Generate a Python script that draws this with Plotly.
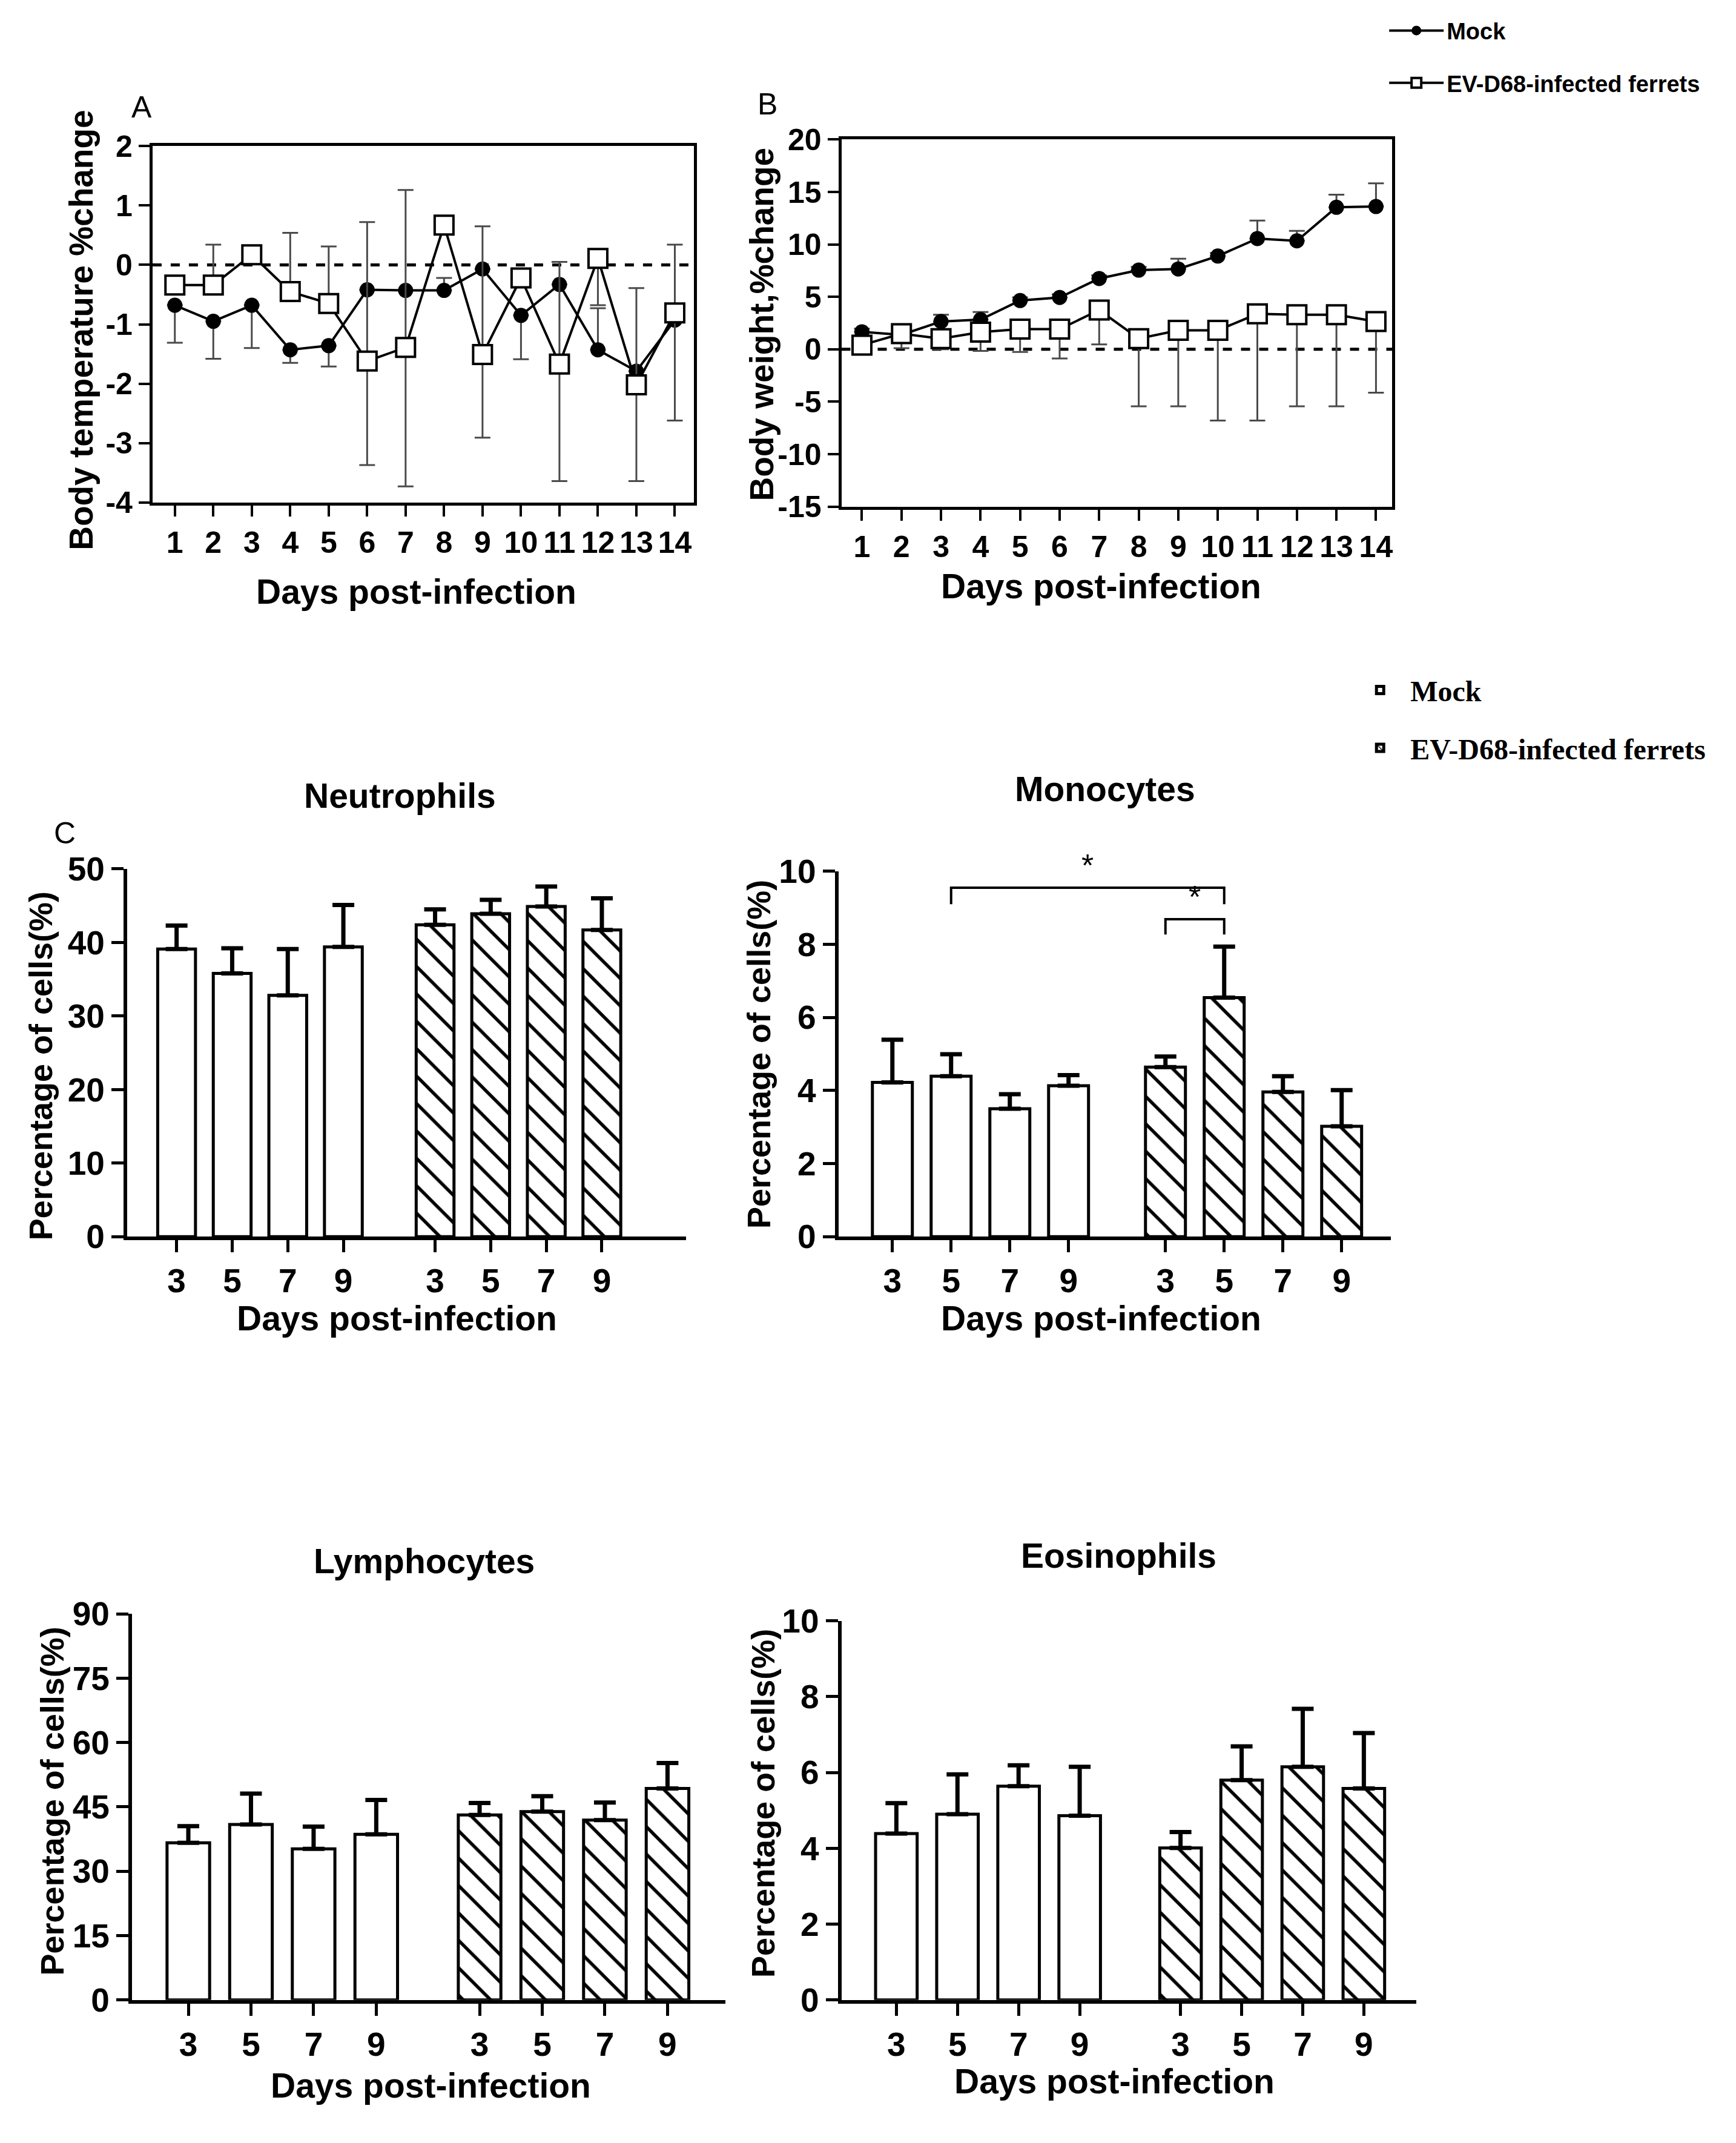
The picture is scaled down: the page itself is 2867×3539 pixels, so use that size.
import plotly.graph_objects as go

W, H = 2867, 3539
FONT = "Liberation Sans, Arial, sans-serif"
SERIF = "Liberation Serif, Times New Roman, serif"

# ---------------- data ----------------
days = list(range(1, 15))

temp_mock = [-0.68, -0.95, -0.68, -1.43, -1.36, -0.42, -0.43, -0.43, -0.07, -0.85, -0.33, -1.43, -1.79, -0.93]
temp_mock_up = [0, 0, 0, 0, 0, 0, 0, 0.21, 0, 0, 0, 0.70, 0, 0]
temp_mock_down = [0.63, 0.63, 0.72, 0.22, 0.35, 0, 0, 0, 0, 0.74, 0, 0, 0, 0]
temp_inf = [-0.34, -0.34, 0.17, -0.45, -0.65, -1.62, -1.39, 0.67, -1.51, -0.22, -1.67, 0.11, -2.02, -0.81]
temp_inf_up = [0, 0.68, 0, 0.99, 0.96, 2.34, 2.65, 0.13, 2.16, 0, 1.72, 0, 1.63, 1.15]
temp_inf_down = [0, 0, 0, 0, 0, 1.75, 2.34, 0, 1.40, 0, 1.97, 0.79, 1.62, 1.81]
temp_ticks = [-4, -3, -2, -1, 0, 1, 2]

wt_mock = [1.67, 1.38, 2.65, 2.83, 4.65, 4.94, 6.75, 7.55, 7.66, 8.89, 10.56, 10.34, 13.54, 13.61]
wt_mock_up = [0.3, 0.3, 0.65, 0.73, 0.3, 0.3, 0.3, 0.3, 0.98, 0.3, 1.71, 0.95, 1.20, 2.22]
wt_inf = [0.40, 1.49, 1.02, 1.63, 1.92, 1.92, 3.74, 1.02, 1.81, 1.81, 3.38, 3.30, 3.30, 2.65]
wt_inf_down = [0.40, 1.39, 1.02, 1.78, 2.17, 2.79, 3.27, 6.46, 7.25, 8.60, 10.17, 8.74, 8.74, 6.79]
wt_ticks = [-15, -10, -5, 0, 5, 10, 15, 20]

bar_days = ["3", "5", "7", "9"]

neut_mock = [39.1, 35.8, 32.8, 39.4]
neut_mock_err = [3.2, 3.4, 6.3, 5.7]
neut_inf = [42.4, 43.9, 44.9, 41.7]
neut_inf_err = [2.1, 1.9, 2.7, 4.3]

mono_mock = [4.22, 4.39, 3.50, 4.13]
mono_mock_err = [1.17, 0.60, 0.40, 0.29]
mono_inf = [4.64, 6.54, 3.96, 3.02]
mono_inf_err = [0.29, 1.40, 0.43, 0.99]

lymph_mock = [36.6, 40.9, 35.2, 38.6]
lymph_mock_err = [3.9, 7.2, 5.2, 8.0]
lymph_inf = [43.1, 43.9, 41.9, 49.3]
lymph_inf_err = [2.8, 3.6, 4.1, 5.9]

eos_mock = [4.39, 4.90, 5.64, 4.86]
eos_mock_err = [0.80, 1.05, 0.55, 1.29]
eos_inf = [4.01, 5.80, 6.15, 5.58]
eos_inf_err = [0.42, 0.89, 1.53, 1.46]

# significance brackets on monocytes: ((group, bar), (group, bar)) and bracket levels
sig_pairs = [((0, 1), (1, 1)), ((1, 0), (1, 1))]
sig_levels = [9.55, 8.69]
sig_drop = [0.45, 0.42]

GROUP_GAP = 4.65
mock_x = [i for i in range(4)]
inf_x = [i + GROUP_GAP for i in range(4)]


def xdom(a, b):
    return [a / W, b / W]


def ydom(top, bottom):
    return [1 - bottom / H, 1 - top / H]


fig = go.Figure()

ERR_AB = dict(type="data", symmetric=False, color="#4a4a4a", thickness=3, width=13)

# ---------------- A: body temperature ----------------
fig.add_trace(go.Scatter(
    x=days, y=temp_mock, mode="lines+markers", name="Mock",
    line=dict(color="black", width=4),
    marker=dict(symbol="circle", size=25, color="black"),
    error_y=dict(ERR_AB, array=temp_mock_up, arrayminus=temp_mock_down),
    xaxis="x", yaxis="y", legend="legend", legendgroup="m"))
fig.add_trace(go.Scatter(
    x=days, y=temp_inf, mode="lines+markers", name="EV-D68-infected ferrets",
    line=dict(color="black", width=4),
    marker=dict(symbol="square", size=31, color="white", line=dict(color="black", width=4)),
    error_y=dict(ERR_AB, array=temp_inf_up, arrayminus=temp_inf_down),
    xaxis="x", yaxis="y", legend="legend", legendgroup="i"))

# ---------------- B: body weight ----------------
fig.add_trace(go.Scatter(
    x=days, y=wt_mock, mode="lines+markers", name="Mock", showlegend=False,
    line=dict(color="black", width=4),
    marker=dict(symbol="circle", size=25, color="black"),
    error_y=dict(ERR_AB, array=wt_mock_up, arrayminus=[0] * 14),
    xaxis="x2", yaxis="y2"))
fig.add_trace(go.Scatter(
    x=days, y=wt_inf, mode="lines+markers", name="EV-D68-infected ferrets", showlegend=False,
    line=dict(color="black", width=4),
    marker=dict(symbol="square", size=31, color="white", line=dict(color="black", width=4)),
    error_y=dict(ERR_AB, array=[0] * 14, arrayminus=wt_inf_down),
    xaxis="x2", yaxis="y2"))

# ---------------- bar panels ----------------
panels = [
    ("3", neut_mock, neut_mock_err, neut_inf, neut_inf_err, True),
    ("4", mono_mock, mono_mock_err, mono_inf, mono_inf_err, False),
    ("5", lymph_mock, lymph_mock_err, lymph_inf, lymph_inf_err, False),
    ("6", eos_mock, eos_mock_err, eos_inf, eos_inf_err, False),
]
for ax, mv, me, iv, ie, show in panels:
    fig.add_trace(go.Bar(
        x=mock_x, y=mv, width=0.68, name="Mock", showlegend=show, legend="legend2",
        legendgroup="bm",
        marker=dict(color="white", line=dict(color="black", width=5)),
        error_y=dict(type="data", symmetric=False, array=me, arrayminus=[0] * 4,
                     color="black", thickness=7, width=18),
        xaxis="x" + ax, yaxis="y" + ax))
    fig.add_trace(go.Bar(
        x=inf_x, y=iv, width=0.68, name="EV-D68-infected ferrets", showlegend=show,
        legend="legend2", legendgroup="bi",
        marker=dict(color="white", line=dict(color="black", width=5),
                    pattern=dict(shape="\\", fgcolor="black", bgcolor="white", fgopacity=1,
                                 size=32, solidity=0.17)),
        error_y=dict(type="data", symmetric=False, array=ie, arrayminus=[0] * 4,
                     color="black", thickness=7, width=18),
        xaxis="x" + ax, yaxis="y" + ax))

font_ab = dict(family=FONT, size=50, color="black", weight="bold")
font_bar = dict(family=FONT, size=55, color="black", weight="bold")

common_ax = dict(showgrid=False, zeroline=False, showline=True, linecolor="black",
                 ticks="outside", tickcolor="black", tickangle=0, fixedrange=True)


def hy(vals):
    # plain ASCII hyphen for negative numbers, as in the original figure
    return ["-" + str(abs(v)) if v < 0 else str(v) for v in vals]


layout_axes = {}
# A
layout_axes["xaxis"] = dict(common_ax, domain=xdom(252, 1146), anchor="y", range=[0.42, 14.49],
                            tickvals=days, tickfont=font_ab,
                            linewidth=5, mirror=True, tickwidth=4, ticklen=18)
layout_axes["yaxis"] = dict(common_ax, domain=ydom(214, 813), anchor="x", range=[-4, 2],
                            tickvals=temp_ticks, ticktext=hy(temp_ticks), tickfont=font_ab,
                            linewidth=5, mirror=True, tickwidth=4, ticklen=18)
# B
layout_axes["xaxis2"] = dict(common_ax, domain=xdom(1390, 2300), anchor="y2", range=[0.48, 14.41],
                             tickvals=days, tickfont=font_ab,
                             linewidth=5, mirror=True, tickwidth=4, ticklen=18)
layout_axes["yaxis2"] = dict(common_ax, domain=ydom(203, 820), anchor="x2", range=[-15, 20],
                             tickvals=wt_ticks, ticktext=hy(wt_ticks), tickfont=font_ab,
                             linewidth=5, mirror=True, tickwidth=4, ticklen=18)

bar_geom = {
    "3": (xdom(210, 1133), ydom(1429, 2047), [-0.89, 9.16], [0, 50], 10),
    "4": (xdom(1385, 2298), ydom(1433, 2047), [-0.92, 8.49], [0, 10], 2),
    "5": (xdom(218, 1198), ydom(2681, 3330), [-0.90, 8.57], [0, 90], 15),
    "6": (xdom(1390, 2340), ydom(2693, 3330), [-0.90, 8.51], [0, 10], 2),
}
for ax, (xd, yd, xr, yr, dt) in bar_geom.items():
    layout_axes["xaxis" + ax] = dict(common_ax, domain=xd, anchor="y" + ax, range=xr,
                                     tickvals=mock_x + inf_x, ticktext=bar_days * 2, tickfont=font_bar,
                                     linewidth=6, tickwidth=5, ticklen=20)
    layout_axes["yaxis" + ax] = dict(common_ax, domain=yd, anchor="x" + ax, range=yr, dtick=dt,
                                     tickfont=font_bar, linewidth=6, tickwidth=5, ticklen=20)

# ---------------- shapes ----------------
shapes = []
for ax in ["", "2"]:
    shapes.append(dict(type="line", xref=("x" + ax) + " domain", yref="y" + ax,
                       x0=0, x1=1, y0=0, y1=0, line=dict(color="black", width=5, dash="dash"),
                       layer="below"))

annotations = []
group_x = [mock_x, inf_x]
for (a, b), lev, drop in zip(sig_pairs, sig_levels, sig_drop):
    xa = group_x[a[0]][a[1]]
    xb = group_x[b[0]][b[1]]
    shapes.append(dict(type="path", xref="x4", yref="y4",
                       path=f"M {xa},{lev - drop} L {xa},{lev} L {xb},{lev} L {xb},{lev - drop}",
                       line=dict(color="black", width=4)))
    annotations.append(dict(x=(xa + xb) / 2, y=lev + 0.1, xref="x4", yref="y4", text="*",
                            showarrow=False, yanchor="bottom",
                            font=dict(family=FONT, size=52, color="black")))


def txt(x, y, s, size=57, angle=0, bold=True, family=FONT):
    annotations.append(dict(x=x / W, y=1 - y / H, xref="paper", yref="paper", text=s,
                            showarrow=False, xanchor="center", yanchor="middle", textangle=angle,
                            font=dict(family=family, size=size, color="black",
                                      weight="bold" if bold else "normal")))


# panel letters
txt(234, 149, "A", size=50, bold=False)
txt(1268, 144, "B", size=50, bold=False)
txt(107, 1369, "C", size=50, bold=False)

# axis titles
txt(134, 523, "Body temperature %change", size=55, angle=-90)
txt(688, 963, "Days post-infection")
txt(1258, 514, "Body weight,%change", size=55, angle=-90)
txt(1819, 954, "Days post-infection")

txt(661, 1306, "Neutrophils")
txt(67, 1760, "Percentage of cells(%)", size=54, angle=-90)
txt(656, 2184, "Days post-infection")

txt(1826, 1295, "Monocytes")
txt(1254, 1741, "Percentage of cells(%)", size=54, angle=-90)
txt(1819, 2184, "Days post-infection")

txt(701, 2592, "Lymphocytes")
txt(86, 2996, "Percentage of cells(%)", size=54, angle=-90)
txt(712, 3474, "Days post-infection")

txt(1848, 2583, "Eosinophils")
txt(1261, 3000, "Percentage of cells(%)", size=54, angle=-90)
txt(1841, 3467, "Days post-infection")

fig.update_layout(
    width=W, height=H, autosize=False,
    margin=dict(l=0, r=0, t=0, b=0),
    paper_bgcolor="white", plot_bgcolor="white",
    barmode="overlay",
    shapes=shapes, annotations=annotations,
    legend=dict(x=2290 / W, y=1 + 12 / H, xanchor="left", yanchor="top",
                font=dict(family=FONT, size=38, color="black", weight="bold"),
                bgcolor="rgba(0,0,0,0)", traceorder="grouped", tracegroupgap=34, itemwidth=90),
    legend2=dict(x=2230 / W, y=1 - 1090 / H, xanchor="left", yanchor="top",
                 font=dict(family=SERIF, size=48, color="black", weight="bold"),
                 bgcolor="rgba(0,0,0,0)", traceorder="grouped", tracegroupgap=30, itemwidth=90),
    **layout_axes,
)

fig.write_html("out.html", config={"displayModeBar": False},
               post_script="document.body.style.margin='0';document.body.style.overflow='hidden';")
